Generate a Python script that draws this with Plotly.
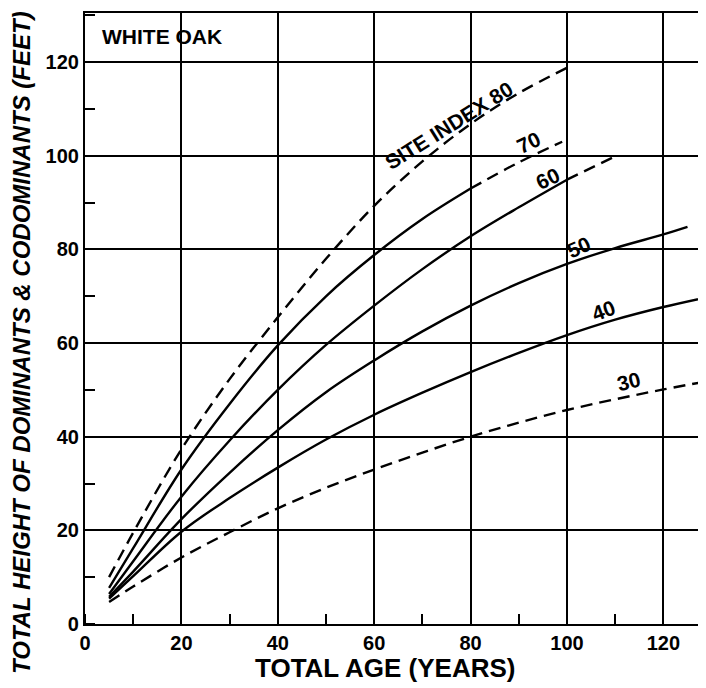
import plotly.graph_objects as go

# ---- data ----
ages_80 = [5, 10, 20, 30, 40, 50, 60, 70, 80, 90, 100]
si80 = [10.0, 19.5, 37.3, 52.3, 65.5, 78.0, 89.3, 98.8, 106.8, 113.4, 118.8]

ages_70 = [5, 10, 20, 30, 40, 50, 60, 70, 80]
si70 = [7.7, 16.2, 33.0, 47.0, 59.5, 70.0, 78.8, 86.5, 93.0]
ages_70d = [80, 90, 99]
si70d = [93.0, 98.6, 103.0]

ages_60 = [5, 10, 20, 30, 40, 50, 60, 70, 80, 90, 100]
si60 = [6.4, 13.4, 27.2, 39.2, 50.0, 59.6, 68.0, 75.8, 82.8, 89.0, 94.9]
ages_60d = [100, 110]
si60d = [94.9, 99.9]

ages_50 = [5, 10, 20, 30, 40, 50, 60, 70, 80, 90, 100, 110, 120, 125]
si50 = [5.8, 11.2, 22.4, 32.3, 41.4, 49.5, 56.3, 62.5, 68.0, 72.8, 76.9, 80.3, 83.2, 84.8]

ages_40 = [5, 10, 20, 30, 40, 50, 60, 70, 80, 90, 100, 110, 120, 130]
si40 = [5.4, 10.2, 19.7, 26.9, 33.4, 39.4, 44.7, 49.4, 53.8, 57.9, 61.7, 65.0, 67.7, 70.0]

ages_30 = [5, 10, 20, 30, 40, 50, 60, 70, 80, 90, 100, 110, 120, 130]
si30 = [4.7, 8.0, 14.2, 19.6, 24.7, 29.1, 33.0, 36.6, 40.0, 43.0, 45.7, 48.0, 50.1, 52.0]

tick_vals = [0, 20, 40, 60, 80, 100, 120]
tick_text = ["0", "20", "40", "60", "80", "100", "120"]

# curve labels: (text, age, height, angle)
labels = [
    ("SITE INDEX 80", 75.5, 106.5, -32),
    ("70", 92.0, 102.8, -25),
    ("60", 96.0, 95.2, -25),
    ("50", 102.3, 80.5, -24),
    ("40", 107.5, 66.9, -20),
    ("30", 112.7, 51.8, -14),
]

FONT = "Liberation Sans"
DASH = "12px,7px"
LW = 2.4

# the page body has an 8px margin, so the figure sits at (8, 8)
OFF = 8
W, H = 706 - OFF, 688 - OFF
L, T = 85 - OFF, 13 - OFF
B = H - (624 - OFF)
PW, PH = W - L, H - T - B

fig = go.Figure()

def add(x, y, dashed):
    fig.add_trace(go.Scatter(
        x=x, y=y, mode="lines",
        line=dict(color="black", width=LW, shape="spline", smoothing=1.0,
                  dash=DASH if dashed else "solid"),
        showlegend=False, hoverinfo="skip"))

add(ages_80, si80, True)
add(ages_70, si70, False)
add(ages_70d, si70d, True)
add(ages_60, si60, False)
add(ages_60d, si60d, True)
add(ages_50, si50, False)
add(ages_40, si40, False)
add(ages_30, si30, True)

for txt, ax_, ay_, ang in labels:
    fig.add_annotation(x=ax_, y=ay_, text=txt, showarrow=False, textangle=ang,
                       font=dict(family=FONT, size=21, color="black", weight="bold"))

fig.add_annotation(x=15.9, y=125.4, text="WHITE OAK", showarrow=False,
                   font=dict(family=FONT, size=21, color="black", weight="bold"))

# axis titles (positions in page pixels converted to paper coords)
fig.add_annotation(xref="paper", yref="paper", x=(385 - 85) / PW, y=-(668 - 624) / PH,
                   text="TOTAL AGE (YEARS)", showarrow=False, yanchor="middle",
                   font=dict(family=FONT, size=26, color="black", weight="bold"))
fig.add_annotation(xref="paper", yref="paper", x=-(85 - 22) / PW, y=(624 - 343) / PH,
                   text="TOTAL HEIGHT OF DOMINANTS &amp; CODOMINANTS (FEET)", showarrow=False,
                   textangle=-90, xanchor="center", yanchor="middle",
                   font=dict(family=FONT, size=24, color="black", weight="bold", style="italic"))

axis_common = dict(
    showgrid=True, gridcolor="black", gridwidth=1.8,
    showline=True, linecolor="black", linewidth=2.2,
    zeroline=False, ticks="", tickvals=tick_vals, ticktext=tick_text,
    tickfont=dict(family=FONT, size=20, color="black", weight="bold"),
    minor=dict(dtick=10, tick0=0, ticks="inside", ticklen=10, tickwidth=2,
               tickcolor="black", showgrid=False),
)

fig.update_xaxes(range=[0, PW / 4.82], mirror=True, **axis_common)
fig.update_yaxes(range=[0, 130.5], mirror=False, **axis_common)

fig.update_layout(
    width=W, height=H,
    margin=dict(l=L, r=0, t=T, b=B, autoexpand=False),
    paper_bgcolor="white", plot_bgcolor="white",
    showlegend=False,
)

fig.write_html("out.html")
